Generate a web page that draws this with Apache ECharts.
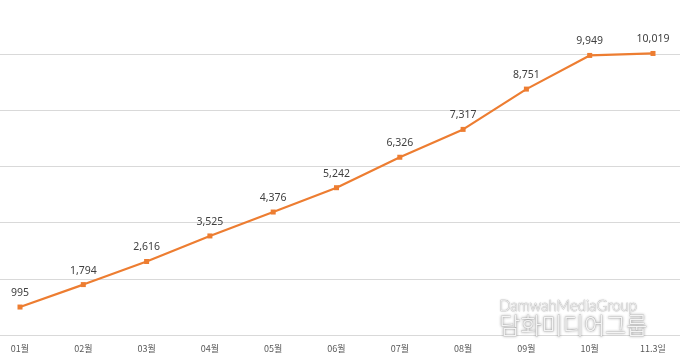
<!DOCTYPE html>
<html>
<head>
<meta charset="utf-8">
<script src="https://cdn.jsdelivr.net/npm/echarts@6/dist/echarts.min.js"></script>
<style>html,body{margin:0;padding:0;background:#fff}#c{width:680px;height:362px}</style>
</head>
<body>
<div id="c"></div>
<script>
const categories = ['01월','02월','03월','04월','05월','06월','07월','08월','09월','10월','11.3일'];
const values = [995, 1794, 2616, 3525, 4376, 5242, 6326, 7317, 8751, 9949, 10019];
const yMin = 0, yMax = 10000, yInterval = 2000;

const chart = echarts.init(document.getElementById('c'), null, {renderer: 'canvas'});
chart.setOption({
  animation: false,
  backgroundColor: '#ffffff',
  grid: [
    {left: 20, right: 27, top: 54, height: 281, containLabel: false},
    {left: 0, right: 0, top: 54, height: 281, containLabel: false}
  ],
  xAxis: [{
    type: 'category',
    gridIndex: 0,
    data: categories,
    boundaryGap: false,
    axisLine: {show: false},
    axisTick: {show: false},
    splitLine: {show: false},
    axisLabel: {color: '#595959', fontSize: 9, fontFamily: '"Noto Sans CJK KR", sans-serif', margin: 9}
  }, {
    type: 'value', gridIndex: 1, min: 0, max: 1, show: false
  }],
  yAxis: [{
    type: 'value', gridIndex: 0,
    min: yMin, max: yMax, interval: yInterval,
    axisLabel: {show: false}, axisLine: {show: false}, axisTick: {show: false},
    splitLine: {show: false}
  }, {
    type: 'value', gridIndex: 1,
    min: yMin, max: yMax, interval: yInterval,
    axisLabel: {show: false}, axisLine: {show: false}, axisTick: {show: false},
    splitLine: {lineStyle: {color: '#d9d9d9', width: 1}}
  }],
  series: [{
    type: 'line',
    xAxisIndex: 0, yAxisIndex: 0,
    data: values,
    clip: false,
    z: 5,
    symbol: 'rect',
    symbolSize: 5,
    lineStyle: {color: '#ED7D31', width: 2.2},
    itemStyle: {color: '#ED7D31'},
    label: {
      show: true, position: 'top', distance: 6,
      color: '#404040', fontSize: 10.5,
      fontFamily: '"Noto Sans", sans-serif',
      formatter: p => p.value.toLocaleString('en-US')
    }
  }],
  graphic: [
    {type: 'text', left: 499, top: 298, z: 100,
     style: {text: 'DamwahMediaGroup', fontSize: 15, fontFamily: 'Lato, "Noto Sans", sans-serif', fontWeight: 300,
       fill: '#f2f2f2', stroke: '#c4c4c4', lineWidth: 0.6, textShadowColor: 'rgba(0,0,0,0.15)', textShadowBlur: 2}},
    {type: 'text', left: 499, top: 313, z: 100,
     style: {text: '담화미디어그룹', fontSize: 23, fontFamily: '"Noto Sans CJK KR", sans-serif', fontWeight: 300,
       fill: '#f4f4f4', stroke: '#c8c8c8', lineWidth: 0.6, textShadowColor: 'rgba(0,0,0,0.3)', textShadowBlur: 3}}
  ]
});
</script>
</body>
</html>
